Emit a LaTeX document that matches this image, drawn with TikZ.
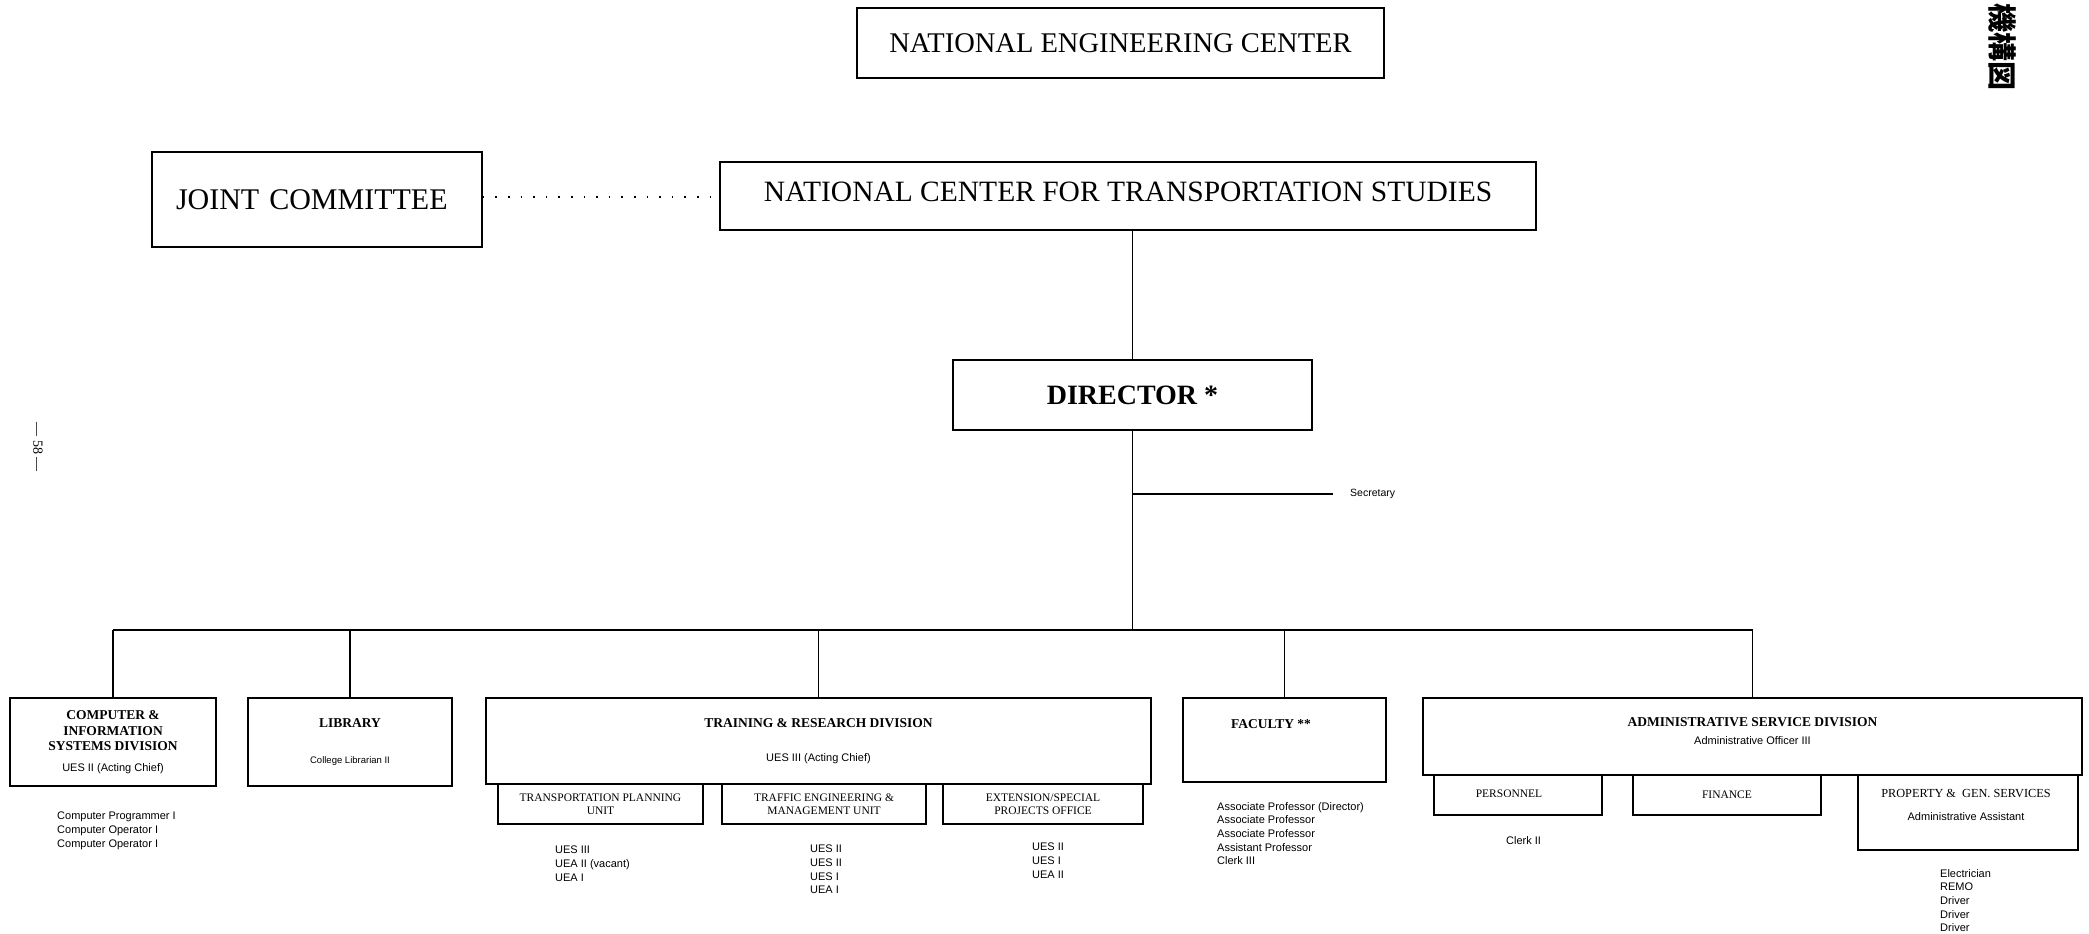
\documentclass[tikz,border=0pt]{standalone}
\usepackage{fontspec}
\setmainfont{Liberation Serif}
\setsansfont{Liberation Sans}
\newfontfamily\cjkfont{Noto Sans CJK JP}
\begin{document}
\begin{tikzpicture}[x=1pt,y=-1pt,
  topbox/.style={draw, line width=1.6pt, inner sep=0pt, font=\fontsize{29.5}{32}\selectfont},
  divbox/.style={draw, line width=1.3pt, inner sep=0pt, align=center, font=\fontsize{13.5}{15.5}\selectfont\bfseries},
  unitbox/.style={draw, line width=1.3pt, inner sep=0pt, align=center, font=\fontsize{11.5}{13}\selectfont},
  divtitle/.style={inner sep=0pt, font=\fontsize{13.5}{15.5}\selectfont\bfseries},
  unittitle/.style={inner sep=0pt, align=center, font=\fontsize{11.5}{13}\selectfont},
  subtext/.style={inner sep=0pt, font=\sffamily\fontsize{11}{13}\selectfont},
  staff/.style={anchor=north west, inner sep=0pt, align=left, font=\sffamily\fontsize{11}{13.7}\selectfont},
  conn/.style={line width=1.8pt},
  dotconn/.style={line width=1.6pt, dash pattern=on 1.6pt off 11pt}]
\fill[white] (0,0) rectangle (2089,934);
\useasboundingbox (0,0) rectangle (2089,934);

% top level
\node[topbox, minimum width=527pt, minimum height=70pt, font=\fontsize{28.5}{32}\selectfont] (nec) at (1120.5,43) {NATIONAL ENGINEERING CENTER};
\node[topbox, minimum width=330pt, minimum height=95pt, text width=310pt, align=left, font=\fontsize{30}{32}\selectfont] (jc) at (317,199.5) {\hspace*{14pt}JOINT COMMITTEE};
\node[topbox, minimum width=816pt, minimum height=68pt, text depth=9pt] (ncts) at (1128,196) {NATIONAL CENTER FOR TRANSPORTATION STUDIES};
\node[topbox, minimum width=359pt, minimum height=70pt, font=\fontsize{28}{32}\selectfont\bfseries] (dir) at (1132.5,395) {DIRECTOR *};

\draw[dotconn] (jc.east |- 0,197) -- (ncts.west |- 0,197);
\draw[conn] (dir.north |- ncts.south) -- (dir.north);

% secretary
\node[subtext, anchor=west, font=\sffamily\fontsize{10.5}{12}\selectfont] (secretary) at (1350,494) {Secretary};
\draw[line width=1.3pt] (dir.south |- secretary.west) -- ([xshift=-17pt]secretary.west);

% divisions
\node[divbox, minimum width=206pt, minimum height=88pt] (comp) at (113,742)
  {COMPUTER \&\\INFORMATION\\SYSTEMS DIVISION\\[5pt]{\sffamily\mdseries\fontsize{11}{12}\selectfont UES II (Acting Chief)}};
\node[divbox, minimum width=204pt, minimum height=88pt] (lib) at (350,742)
  {LIBRARY\\[21pt]{\sffamily\mdseries\fontsize{9.5}{11}\selectfont College Librarian II}};
\node[divbox, minimum width=665pt, minimum height=86pt] (train) at (818.5,741)
  {TRAINING \& RESEARCH DIVISION\\[18pt]{\sffamily\mdseries\fontsize{11}{12}\selectfont UES III (Acting Chief)}};
\node[divbox, minimum width=203pt, minimum height=84pt] (fac) at (1284.5,740) {};
\node[divtitle] (factitle) at (1271,724) {FACULTY **};
\node[divbox, minimum width=659pt, minimum height=77pt] (adm) at (1752.5,736.5) {};
\node[divtitle] (admtitle) at (1752.5,722) {ADMINISTRATIVE SERVICE DIVISION};
\node[subtext] (admsub) at (1752.5,741) {Administrative Officer III};

% units
\node[unitbox, minimum width=205pt, minimum height=40pt] (tpu) at (600.5,804) {TRANSPORTATION PLANNING\\UNIT};
\node[unitbox, minimum width=204pt, minimum height=40pt] (temu) at (824,804) {TRAFFIC ENGINEERING \&\\MANAGEMENT UNIT};
\node[unitbox, minimum width=200pt, minimum height=40pt] (espo) at (1043,804) {EXTENSION/SPECIAL\\PROJECTS OFFICE};
\node[unitbox, minimum width=168pt, minimum height=40pt] (pers) at (1518,795) {};
\node[unittitle] (perstitle) at (1509,794) {PERSONNEL};
\node[unitbox, minimum width=188pt, minimum height=40pt] (fin) at (1727,795) {FINANCE};
\node[unitbox, minimum width=220pt, minimum height=75pt] (prop) at (1968,812.5) {};
\node[unittitle, font=\fontsize{12.3}{14}\selectfont] (proptitle) at (1966,793) {PROPERTY \&\ \ GEN. SERVICES};
\node[subtext] (propsub) at (1966,817) {Administrative Assistant};

% bus and drops
\coordinate (busL) at (113,630);
\draw[conn] (dir.south) -- (dir.south |- busL);
\draw[conn] (comp.north |- busL) -- (adm.north |- busL);
\foreach \n in {comp,lib,train,fac,adm} \draw[conn] (\n.north |- busL) -- (\n.north);

% staff lists
\node[staff] (compstaff) at (57,812) {Computer Programmer I\\Computer Operator I\\Computer Operator I};
\node[staff] (tpustaff) at (555,846) {UES III\\UEA II (vacant)\\UEA I};
\node[staff] (temustaff) at (810,845) {UES II\\UES II\\UES I\\UEA I};
\node[staff] (espostaff) at (1032,843) {UES II\\UES I\\UEA II};
\node[staff] (facstaff) at (1217,802) {Associate Professor (Director)\\Associate Professor\\Associate Professor\\Assistant Professor\\Clerk III};
\node[staff] (persstaff) at (1506,836) {Clerk II};
\node[staff] (propstaff) at (1940,869) {Electrician\\REMO\\Driver\\Driver\\Driver};

% margin marks
\node[rotate=-90, inner sep=0pt, font=\fontsize{14}{14}\selectfont] (pageno) at (38,447) {\textemdash\ 58 \textemdash};
\node[rotate=-90, inner sep=0pt, font=\cjkfont\bfseries\fontsize{29}{32}\selectfont] (jp) at (2002,47) {機構図};
\end{tikzpicture}
\end{document}
